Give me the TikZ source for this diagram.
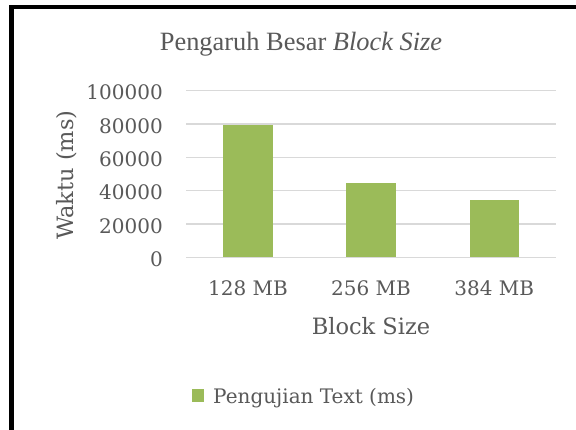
\documentclass[tikz,border=0pt]{standalone}
\usepackage{fontspec}
\setmainfont{DejaVu Serif}
\newfontfamily\titlefont{Liberation Serif}
\definecolor{txt}{HTML}{595959}
\definecolor{barc}{HTML}{9BBB59}
\definecolor{gridc}{HTML}{D9D9D9}
\tikzset{
  ticklbl/.style={text=txt, inner sep=0pt, font=\fontsize{20}{24}\selectfont},
  axislbl/.style={text=txt, inner sep=0pt, font=\fontsize{22.5}{27}\selectfont},
  gridline/.style={draw=gridc, line width=1.5pt},
  barbox/.style={fill=barc},
}
\begin{document}
\begin{tikzpicture}[x=1pt,y=-1pt]
\useasboundingbox (0,0) rectangle (576,430);
\fill[white] (0,0) rectangle (576,430);
% frame
\fill[black] (9,5) rectangle (14,430);
\fill[black] (9,5) rectangle (576,9);
% title
\node[inner sep=0pt, anchor=base, text=txt, font=\titlefont\fontsize{26.4}{30}\selectfont] (title) at (301,51) {Pengaruh Besar \textit{Block Size}};
% grid and tick labels
\foreach \v [count=\i from 0] in {0,20000,40000,60000,80000,100000} {
  \pgfmathsetmacro{\yy}{257.3-33.32*\i}
  \draw[gridline] (186,\yy) -- (556,\yy);
  \node[ticklbl, anchor=base east] (t\i) at (163,\yy+9.3) {\v};
}
% bars
\fill[barc] (223.3,257.3) rectangle (272.7,125);
\fill[barc] (346.3,257.3) rectangle (395.7,183);
\fill[barc] (469.6,257.3) rectangle (519.0,200);
% category labels
\node[ticklbl, anchor=base] (c1) at (248,296) {128 MB};
\node[ticklbl, anchor=base] (c2) at (371,296) {256 MB};
\node[ticklbl, anchor=base] (c3) at (494.3,296) {384 MB};
% axis titles
\node[axislbl, anchor=base] (xt) at (371,335) {Block Size};
\node[axislbl, anchor=base, rotate=90] (yt) at (73,175) {Waktu (ms)};
% legend
\fill[barc] (192.3,389) rectangle (204.3,401.7);
\node[ticklbl, anchor=base west] (leg) at (213,403) {Pengujian Text (ms)};
\end{tikzpicture}
\end{document}
